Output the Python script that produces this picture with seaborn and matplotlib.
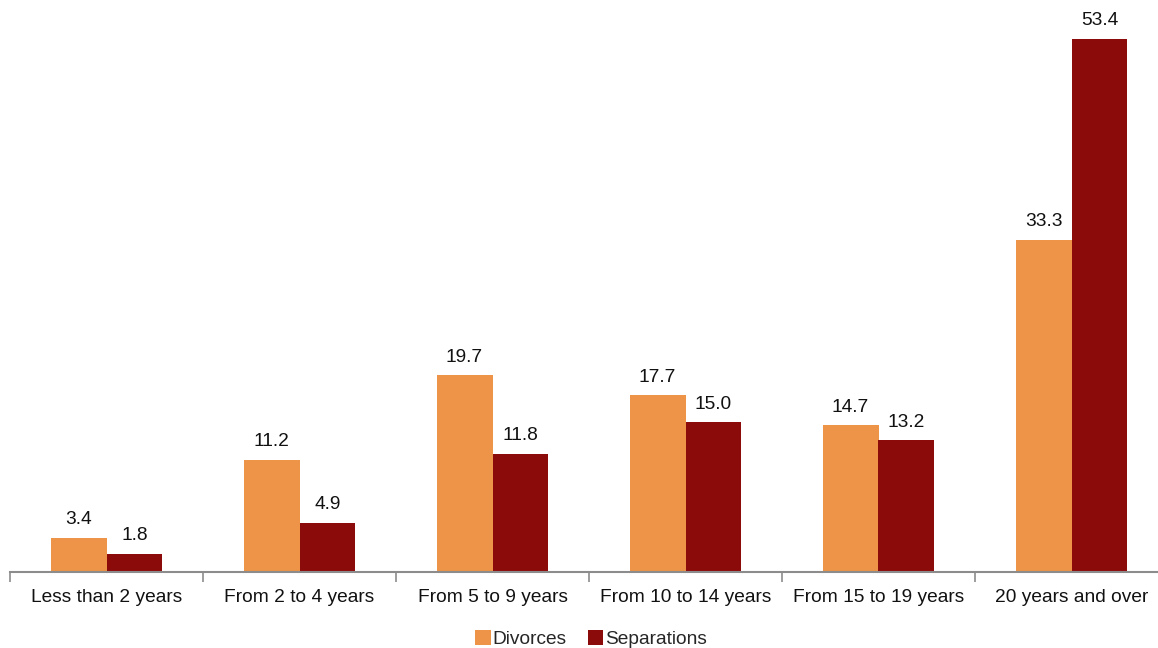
import matplotlib
matplotlib.use("Agg")
import matplotlib.pyplot as plt
import seaborn as sns
import pandas as pd

categories = ["Less than 2 years", "From 2 to 4 years", "From 5 to 9 years",
              "From 10 to 14 years", "From 15 to 19 years", "20 years and over"]
divorces = [3.4, 11.2, 19.7, 17.7, 14.7, 33.3]
separations = [1.8, 4.9, 11.8, 15.0, 13.2, 53.4]
series_names = ["Divorces", "Separations"]
colors = ["#ED9448", "#8B0B0A"]

df = pd.DataFrame({
    "category": categories * 2,
    "value": divorces + separations,
    "series": [series_names[0]] * len(categories) + [series_names[1]] * len(categories),
})

sns.set_theme(style="white")
plt.rcParams["font.family"] = ["Liberation Sans", "DejaVu Sans"]

fig = plt.figure(figsize=(11.58, 6.48), dpi=100)
ax = fig.add_axes([10 / 1158, 1 - 572 / 648, 1158 / 1158, 572 / 648])

sns.barplot(data=df, x="category", y="value", hue="series", order=categories,
            hue_order=series_names, palette=colors, width=0.58, saturation=1,
            edgecolor="none", ax=ax, legend=True)

for container in ax.containers:
    ax.bar_label(container, fmt="%.1f", padding=7, fontsize=13.8, color="#111111")

ax.set_xlim(-0.5, len(categories) - 0.5)
ax.set_ylim(0, 57.3)
ax.set_xlabel("")
ax.set_ylabel("")
ax.set_yticks([])

# category boundaries as ticks, labels at centres
ax.set_xticks([i - 0.5 for i in range(len(categories) + 1)])
ax.set_xticklabels([])
ax.set_xticks(range(len(categories)), minor=True)
ax.set_xticklabels(categories, minor=True, fontsize=13.8, color="#111111")
ax.tick_params(axis="x", which="major", direction="out", length=7, width=1.2,
               color="#8C8C8C", bottom=True)
ax.tick_params(axis="x", which="minor", length=0, pad=12)

for side in ["top", "right", "left"]:
    ax.spines[side].set_visible(False)
ax.spines["bottom"].set_color("#8C8C8C")
ax.spines["bottom"].set_linewidth(1.5)

handles, labels = ax.get_legend_handles_labels()
ax.get_legend().remove()
fig.legend(handles, labels, loc="center", bbox_to_anchor=(591 / 1158, 1 - 639 / 648),
           ncol=2, frameon=False, fontsize=13.8, handlelength=0.8, handleheight=0.8,
           handletextpad=0.1, columnspacing=1.1, borderpad=0)

fig.savefig("out.png", dpi=100)
